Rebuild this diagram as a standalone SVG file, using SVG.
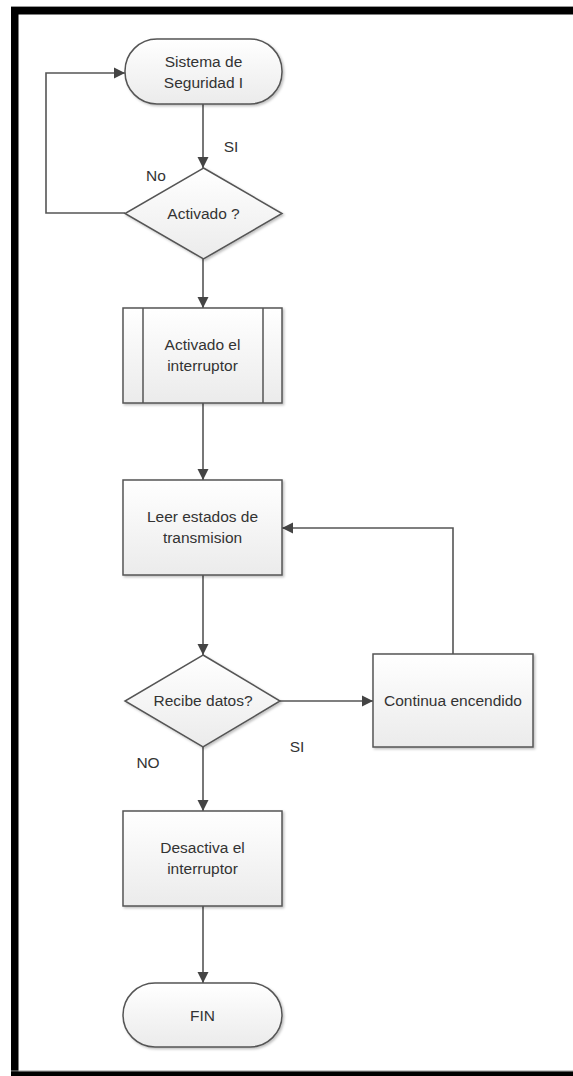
<svg xmlns="http://www.w3.org/2000/svg" width="573" height="1076" viewBox="0 0 573 1076">
<style>
.shape{fill:url(#g);stroke:#555;stroke-width:1.5;filter:url(#sh)}
.t{font-family:"Liberation Sans",Arial,sans-serif;font-size:15.5px;fill:#333;text-anchor:middle}
.c{fill:none;stroke:#555;stroke-width:1.6}
</style>
<defs>
<linearGradient id="g" x1="0" y1="0" x2="0" y2="1">
<stop offset="0" stop-color="#ffffff"/>
<stop offset="1" stop-color="#ebebeb"/>
</linearGradient>
<filter id="sh" x="-10%" y="-10%" width="130%" height="130%">
<feDropShadow dx="1.5" dy="1.5" stdDeviation="1" flood-color="#000" flood-opacity="0.25"/>
</filter>
<marker id="a" markerUnits="userSpaceOnUse" markerWidth="12" markerHeight="12" refX="11" refY="6" orient="auto">
<path d="M0,0.5 L11,6 L0,11.5 z" fill="#444"/>
</marker>
</defs>
<rect width="573" height="1076" fill="#fff"/>
<g id="frame">
<rect x="11" y="6" width="562" height="1.2" fill="#999"/>
<rect x="11" y="7" width="562" height="7.5" fill="#000"/>
<rect x="11" y="7" width="7.5" height="1069" fill="#000"/>
<rect x="11" y="1070.5" width="562" height="1.2" fill="#999"/>
<rect x="11" y="1071.5" width="562" height="4.5" fill="#000"/>
</g>
<g id="connectors">
<path class="c" d="M203,104 V168" marker-end="url(#a)"/>
<path class="c" d="M125,213 H46 V73 H125" marker-end="url(#a)"/>
<path class="c" d="M203,259 V308" marker-end="url(#a)"/>
<path class="c" d="M203,403 V480" marker-end="url(#a)"/>
<path class="c" d="M203,575 V655" marker-end="url(#a)"/>
<path class="c" d="M280,701 H373" marker-end="url(#a)"/>
<path class="c" d="M453,654 V528 H282" marker-end="url(#a)"/>
<path class="c" d="M203,747 V811" marker-end="url(#a)"/>
<path class="c" d="M203,906 V983" marker-end="url(#a)"/>
<text class="t" x="231" y="152">SI</text>
<text class="t" x="156" y="181">No</text>
<text class="t" x="297" y="752">SI</text>
<text class="t" x="148" y="768">NO</text>
</g>
<g id="start">
<rect class="shape" x="125" y="39" width="157" height="65" rx="32" ry="32"/>
<text class="t" x="203.5" y="67">Sistema de</text>
<text class="t" x="203.5" y="88">Seguridad I</text>
</g>
<g id="dec1">
<polygon class="shape" points="203.5,168 282,213.5 203.5,259 125,213.5"/>
<text class="t" x="203.5" y="219">Activado ?</text>
</g>
<g id="proc1">
<rect class="shape" x="123" y="308" width="159" height="95"/>
<line x1="143" y1="308" x2="143" y2="403" stroke="#555" stroke-width="1.5"/>
<line x1="263" y1="308" x2="263" y2="403" stroke="#555" stroke-width="1.5"/>
<text class="t" x="202.5" y="350">Activado el</text>
<text class="t" x="202.5" y="371">interruptor</text>
</g>
<g id="proc2">
<rect class="shape" x="123" y="480" width="159" height="95"/>
<text class="t" x="202.5" y="522">Leer estados de</text>
<text class="t" x="202.5" y="543">transmision</text>
</g>
<g id="dec2">
<polygon class="shape" points="203,655 280,701 203,747 125,701"/>
<text class="t" x="203" y="706">Recibe datos?</text>
</g>
<g id="proc3">
<rect class="shape" x="373" y="654" width="160" height="93"/>
<text class="t" x="453" y="706">Continua encendido</text>
</g>
<g id="proc4">
<rect class="shape" x="123" y="811" width="159" height="95"/>
<text class="t" x="202.5" y="853">Desactiva el</text>
<text class="t" x="202.5" y="874">interruptor</text>
</g>
<g id="end">
<rect class="shape" x="123" y="983" width="159" height="64" rx="32" ry="32"/>
<text class="t" x="202.5" y="1021">FIN</text>
</g>
</svg>
